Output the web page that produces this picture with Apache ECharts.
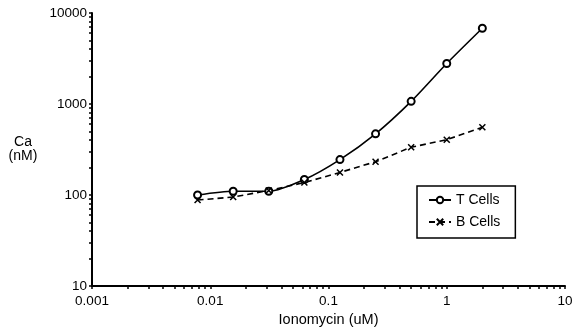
<!DOCTYPE html>
<html>
<head>
<meta charset="utf-8">
<script src="https://cdn.jsdelivr.net/npm/echarts@6/dist/echarts.min.js"></script>
<style>
  html, body { margin: 0; padding: 0; background: #fff; }
  #chart { width: 575px; height: 331px; }
</style>
</head>
<body>
<div id="chart"></div>
<script>
// Ionomycin dose (uM), doubling steps
var doses = [0.0078125, 0.015625, 0.03125, 0.0625, 0.125, 0.25, 0.5, 1, 2];
var tCells = [100, 110, 110, 148, 245, 470, 1070, 2790, 6800]; // Ca (nM)
var bCells = [88, 95, 112, 137, 177, 232, 335, 405, 555];      // Ca (nM)

var font = 'Liberation Sans, Arial, sans-serif';

function pairs(ys) {
  return doses.map(function (d, i) { return [d, ys[i]]; });
}

// 2..9 minor tick positions between decades
function minorTicks(lo, hi) {
  var out = [];
  for (var p = lo; p < hi; p *= 10) {
    for (var k = 2; k <= 9; k++) out.push(+(p * k).toPrecision(3));
  }
  return out;
}

var chart = echarts.init(document.getElementById('chart'), null, { renderer: 'canvas' });

var tickStyle = { color: '#000', width: 1.5 };

var option = {
  backgroundColor: '#fff',
  animation: false,
  textStyle: { fontFamily: font, color: '#000' },
  grid: { left: 92, right: 10, top: 13, bottom: 45, outerBoundsMode: 'none' },
  legend: {
    orient: 'vertical',
    left: 417,
    top: 186,
    padding: [7, 15, 9, 11],
    itemGap: 8,
    itemWidth: 22,
    itemHeight: 8,
    borderColor: '#000',
    borderWidth: 1.5,
    textStyle: { fontFamily: font, fontSize: 14, color: '#000' },
    data: ['T Cells', 'B Cells']
  },
  xAxis: [{
    type: 'log',
    logBase: 10,
    min: 0.001,
    max: 10,
    name: 'Ionomycin (uM)',
    nameLocation: 'middle',
    nameGap: 25,
    nameTextStyle: { fontFamily: font, fontSize: 14.5, color: '#000' },
    axisLine: { lineStyle: { color: '#000', width: 2 } },
    axisTick: { show: true, inside: false, length: 3, lineStyle: tickStyle },
    axisLabel: { fontFamily: font, fontSize: 13.5, color: '#000', margin: 8 },
    splitLine: { show: false }
  }, {
    type: 'log',
    logBase: 10,
    min: 0.001,
    max: 10,
    position: 'bottom',
    axisLine: { show: true, lineStyle: { color: 'rgba(0,0,0,0)' } },
    axisTick: { show: true, inside: false, length: 3, customValues: minorTicks(0.001, 10), lineStyle: tickStyle },
    axisLabel: { show: false },
    splitLine: { show: false }
  }],
  yAxis: [{
    type: 'log',
    logBase: 10,
    min: 10,
    max: 10000,
    name: 'Ca\n(nM)',
    nameLocation: 'middle',
    nameRotate: 0,
    nameGap: 69,
    nameTextStyle: { fontFamily: font, fontSize: 14, color: '#000', lineHeight: 14, align: 'center', padding: [0, 0, 8, 0] },
    axisLine: { lineStyle: { color: '#000', width: 2 } },
    axisTick: { show: true, inside: false, length: 3, lineStyle: tickStyle },
    axisLabel: {
      fontFamily: font, fontSize: 13.5, color: '#000', margin: 5,
      formatter: function (v) { return String(v); }
    },
    splitLine: { show: false }
  }, {
    type: 'log',
    logBase: 10,
    min: 10,
    max: 10000,
    position: 'left',
    axisLine: { show: true, lineStyle: { color: 'rgba(0,0,0,0)' } },
    axisTick: { show: true, inside: false, length: 3, customValues: minorTicks(10, 10000), lineStyle: tickStyle },
    axisLabel: { show: false },
    splitLine: { show: false }
  }],
  series: [
    {
      name: 'T Cells',
      type: 'line',
      smooth: 0.25,
      data: pairs(tCells),
      symbol: 'emptyCircle',
      symbolSize: 7,
      lineStyle: { color: '#000', width: 1.6, type: 'solid' },
      itemStyle: { color: '#000', borderColor: '#000', borderWidth: 1.3 }
    },
    {
      name: 'B Cells',
      type: 'line',
      data: pairs(bCells),
      symbol: 'path://M0,0L10,10M10,0L0,10',
      symbolSize: 6,
      lineStyle: { color: '#000', width: 1.6, type: [6, 4] },
      itemStyle: { color: 'rgba(0,0,0,0)', borderColor: '#000', borderWidth: 1.5 }
    }
  ]
};

chart.setOption(option);
</script>
</body>
</html>
